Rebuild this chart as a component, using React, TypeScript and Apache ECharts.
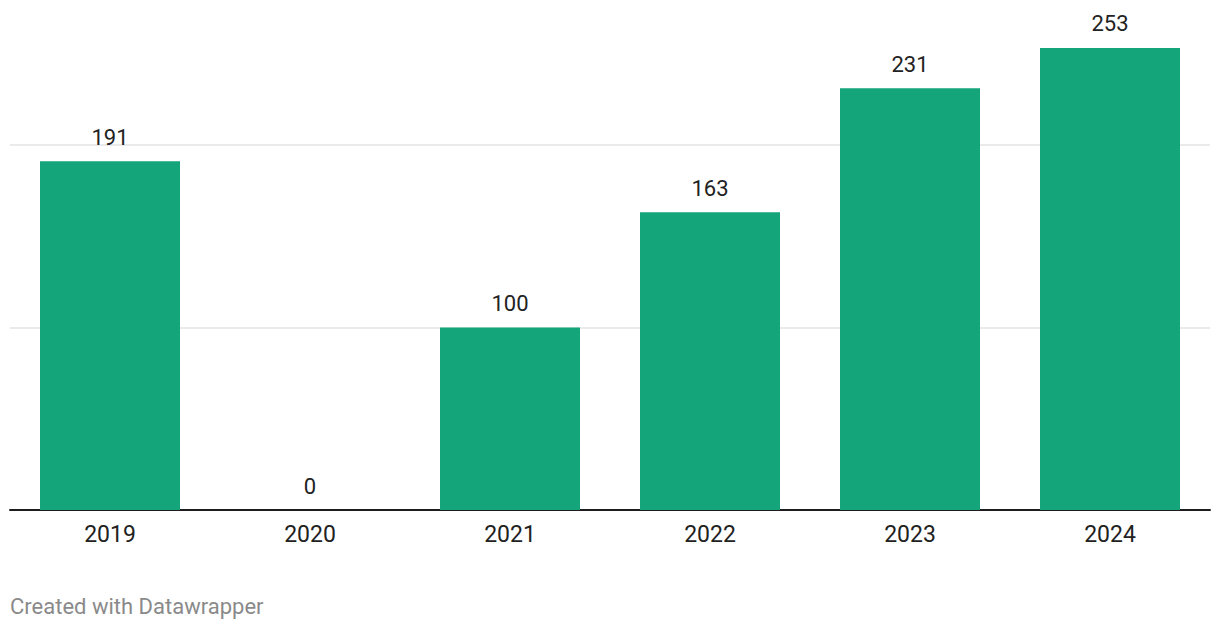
import React, { useEffect, useRef } from "react";
import * as echarts from "echarts";

const categories = ["2019", "2020", "2021", "2022", "2023", "2024"];
const values = [191, 0, 100, 163, 231, 253];
const footer = "Created with Datawrapper";

export default function App() {
  const ref = useRef<HTMLDivElement>(null);
  useEffect(() => {
    const chart = echarts.init(ref.current!, null, { renderer: "svg" });
    chart.setOption({
      animation: false,
      textStyle: { fontFamily: "Roboto" },
      grid: { left: 10, right: 10, top: 10, bottom: 120, containLabel: false },
      xAxis: {
        type: "category",
        data: categories,
        axisTick: { show: false },
        axisLine: { lineStyle: { color: "#1d1d1d", width: 2 } },
        axisLabel: { color: "#222", fontSize: 23, margin: 13, fontFamily: "Roboto" },
      },
      yAxis: {
        type: "value",
        min: 0,
        max: 273.8,
        interval: 100,
        axisLabel: { show: false },
        axisLine: { show: false },
        axisTick: { show: false },
        splitLine: {
          lineStyle: {
            color: ["transparent", "#e3e3e3", "#e3e3e3", "transparent"],
            width: 1.5,
          },
        },
      },
      series: [
        {
          type: "bar",
          data: values,
          barWidth: 140,
          itemStyle: { color: "#14a57a" },
          label: {
            show: true,
            position: "top",
            distance: 13,
            color: "#222",
            fontSize: 22,
            fontFamily: "Roboto",
          },
        },
      ],
      graphic: [
        {
          type: "text",
          left: 10,
          top: 595,
          style: { text: footer, fill: "#8a8a8a", fontSize: 22, fontFamily: "Roboto" },
        },
      ],
    });
    return () => chart.dispose();
  }, []);
  return (
    <div
      ref={ref}
      style={{ position: "fixed", left: 0, top: 0, width: 1220, height: 630, background: "#fff" }}
    />
  );
}
